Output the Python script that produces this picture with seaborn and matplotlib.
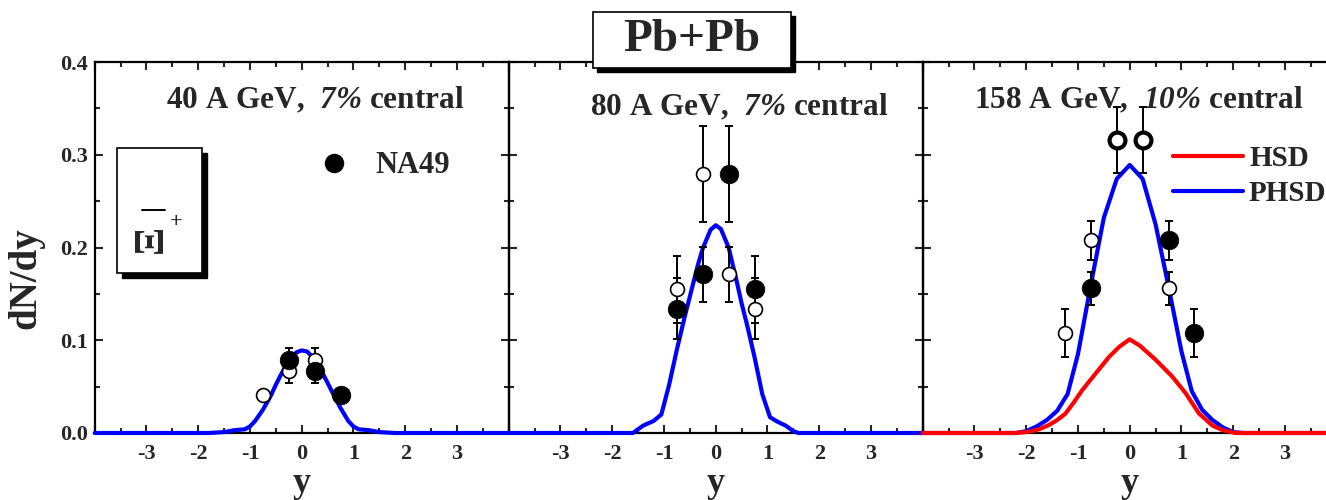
import numpy as np
import pandas as pd
import matplotlib
matplotlib.use("Agg")
import matplotlib.pyplot as plt
import seaborn as sns
from matplotlib.patches import Rectangle
from matplotlib.lines import Line2D
from matplotlib.ticker import MultipleLocator, FixedLocator, FixedFormatter

# ---------------- data ----------------
# NA49 Xi-bar+ rapidity points (measured: filled, reflected at y -> -y: open)
na49_40_y = [-0.25, 0.25, 0.75]
na49_40_dndy = [0.079, 0.067, 0.041]
na49_40_err = [0.013, 0.013, 0.005]

na49_80_y = [-0.75, -0.25, 0.25, 0.75]
na49_80_dndy = [0.134, 0.171, 0.279, 0.155]
na49_80_err = [0.033, 0.030, 0.052, 0.036]

na49_158_y = [-0.75, 0.75, 1.25]
na49_158_dndy = [0.156, 0.208, 0.1075]
na49_158_err = [0.018, 0.021, 0.026]
na49_158_mid_y = [-0.25, 0.25]
na49_158_mid_dndy = [0.316, 0.316]
na49_158_mid_err = [0.036, 0.036]

# PHSD / HSD rapidity distributions
phsd_40_y = [-4.0, -1.8, -1.5, -1.3, -1.1, -1.0, -0.9, -0.75, -0.6, -0.5, -0.4, -0.25,
             -0.1, 0.0, 0.1, 0.25, 0.4, 0.5, 0.6, 0.75, 0.9, 1.0, 1.1, 1.3, 1.5, 1.8, 4.0]
phsd_40_dndy = [0.0, 0.0, 0.001, 0.003, 0.004, 0.007, 0.013, 0.025, 0.040, 0.052, 0.063, 0.078,
                0.087, 0.089, 0.088, 0.080, 0.065, 0.054, 0.043, 0.027, 0.013, 0.007, 0.004,
                0.003, 0.001, 0.0, 0.0]

phsd_80_y = [-4.0, -1.6, -1.4, -1.2, -1.05, -0.9, -0.75, -0.6, -0.5, -0.35, -0.25, -0.1, 0.0,
             0.1, 0.25, 0.4, 0.5, 0.6, 0.75, 0.9, 1.05, 1.2, 1.35, 1.5, 1.6, 4.0]
phsd_80_dndy = [0.0, 0.0, 0.008, 0.013, 0.020, 0.052, 0.090, 0.125, 0.147, 0.180, 0.199, 0.219,
                0.224, 0.220, 0.200, 0.165, 0.140, 0.118, 0.082, 0.042, 0.017, 0.012, 0.008,
                0.002, 0.0, 0.0]

phsd_158_y = [-4.0, -2.2, -2.0, -1.8, -1.6, -1.4, -1.2, -1.0, -0.75, -0.5, -0.25, 0.0,
              0.25, 0.5, 0.75, 1.0, 1.2, 1.4, 1.6, 1.8, 2.0, 2.2, 4.0]
phsd_158_dndy = [0.0, 0.0, 0.002, 0.007, 0.014, 0.024, 0.042, 0.085, 0.160, 0.232, 0.274, 0.289,
                 0.274, 0.225, 0.158, 0.088, 0.045, 0.025, 0.014, 0.006, 0.001, 0.0, 0.0]

hsd_158_y = [-4.0, -2.2, -1.94, -1.75, -1.56, -1.4, -1.24, -1.08, -0.92, -0.66, -0.4, -0.2, 0.0,
             0.2, 0.5, 0.82, 1.08, 1.34, 1.6, 1.8, 2.05, 4.0]
hsd_158_dndy = [0.0, 0.0, 0.0014, 0.004, 0.0086, 0.014, 0.021, 0.033, 0.046, 0.064, 0.082, 0.093,
                0.101, 0.094, 0.079, 0.061, 0.043, 0.021, 0.008, 0.003, 0.0, 0.0]

panel_titles = ["40 A GeV,  $\\mathbfit{7\\%}$ central",
                "80 A GeV,  $\\mathbfit{7\\%}$ central",
                "158 A GeV,  $\\mathbfit{10\\%}$ central"]
x_tick_values = [-4, -3, -2, -1, 0, 1, 2, 3, 4]
x_tick_labels = ["", "-3", "-2", "-1", "0", "1", "2", "3", ""]
y_tick_values = [0.0, 0.1, 0.2, 0.3, 0.4]
y_tick_labels = ["0.0", "0.1", "0.2", "0.3", "0.4"]

# ---------------- style ----------------
sns.set_style("ticks")
plt.rcParams["font.family"] = ["Liberation Serif", "DejaVu Serif"]
plt.rcParams["font.weight"] = "bold"
plt.rcParams["axes.labelweight"] = "bold"
plt.rcParams["mathtext.fontset"] = "custom"
plt.rcParams["mathtext.rm"] = "Liberation Serif:bold"
plt.rcParams["mathtext.bf"] = "Liberation Serif:bold"
plt.rcParams["mathtext.bfit"] = "Liberation Serif:italic:bold"
plt.rcParams["mathtext.it"] = "Liberation Serif:italic:bold"

W, H = 1326, 500
fig = plt.figure(figsize=(W / 100, H / 100), dpi=100)
fig.patch.set_facecolor("white")


def px_axes(left, top, width, height):
    return fig.add_axes([left / W, (H - top - height) / H, width / W, height / H])


BLUE = "#0000ff"
RED = "#ff0000"

panel_left = [94.7, 508.7, 922.7]
panel_top, panel_w, panel_h = 62, 414, 371

points = [
    (na49_40_y, na49_40_dndy, na49_40_err),
    (na49_80_y, na49_80_dndy, na49_80_err),
    (na49_158_y, na49_158_dndy, na49_158_err),
]
phsd = [(phsd_40_y, phsd_40_dndy), (phsd_80_y, phsd_80_dndy), (phsd_158_y, phsd_158_dndy)]
title_pos = [(0.532, 0.898), (0.556, 0.879), (0.521, 0.898)]

axes = []
for i in range(3):
    ax = px_axes(panel_left[i], panel_top, panel_w, panel_h)
    axes.append(ax)
    ax.set_facecolor("none")

    # model curves
    df_p = pd.DataFrame({"y": phsd[i][0], "dndy": phsd[i][1]})
    sns.lineplot(data=df_p, x="y", y="dndy", ax=ax, color=BLUE, lw=3,
                 label="PHSD" if i == 2 else None, legend=False, zorder=3)
    if i == 2:
        df_h = pd.DataFrame({"y": hsd_158_y, "dndy": hsd_158_dndy})
        sns.lineplot(data=df_h, x="y", y="dndy", ax=ax, color=RED, lw=3,
                     label="HSD", legend=False, zorder=3.1)
    for ln in ax.lines:
        ln.set_clip_on(False)

    # data points: measured and reflected
    ys, vals, errs = points[i]
    refl = [-v for v in ys]
    ax.errorbar(refl, vals, yerr=errs, fmt="none", ecolor="black", elinewidth=1.4,
                capsize=3, capthick=1.4, zorder=4)
    ax.errorbar(ys, vals, yerr=errs, fmt="none", ecolor="black", elinewidth=1.4,
                capsize=3, capthick=1.4, zorder=4)
    sns.scatterplot(x=refl, y=vals, ax=ax, s=100, facecolor="white", edgecolor="black",
                    linewidth=1.2, zorder=5)
    sns.scatterplot(x=ys, y=vals, ax=ax, s=180, color="black", edgecolor="black",
                    linewidth=0.5, zorder=6)
    if i == 2:
        ax.errorbar(na49_158_mid_y, na49_158_mid_dndy, yerr=na49_158_mid_err, fmt="none",
                    ecolor="black", elinewidth=1.4, capsize=3, capthick=1.4, zorder=4)
        sns.scatterplot(x=na49_158_mid_y, y=na49_158_mid_dndy, ax=ax, s=130,
                        facecolor="white", edgecolor="black", linewidth=3, zorder=6)

    # axes cosmetics
    ax.set_xlim(-4, 4)
    ax.set_ylim(0, 0.4)
    ax.xaxis.set_major_locator(FixedLocator(x_tick_values))
    ax.xaxis.set_major_formatter(FixedFormatter(x_tick_labels))
    ax.xaxis.set_minor_locator(MultipleLocator(0.5))
    ax.yaxis.set_major_locator(FixedLocator(y_tick_values))
    ax.yaxis.set_minor_locator(MultipleLocator(0.05))
    if i == 0:
        ax.yaxis.set_major_formatter(FixedFormatter(y_tick_labels))
        ax.set_ylabel("dN/dy", fontsize=28, fontweight="bold")
        ax.yaxis.set_label_coords(-0.121, 0.418)
    else:
        ax.set_yticklabels([])
        ax.set_ylabel("")
    ax.tick_params(which="both", direction="in", top=True, right=True, width=1.5,
                   labelsize=16)
    ax.tick_params(axis="x", which="both", pad=8)
    ax.tick_params(axis="y", which="both", pad=5)
    ax.tick_params(which="major", length=6)
    ax.tick_params(which="minor", length=3.5)
    for sp in ax.spines.values():
        sp.set_linewidth(1.6)
        sp.set_color("black")
    ax.set_xlabel("y", fontsize=26, fontweight="bold", labelpad=2)
    ax.text(*title_pos[i], panel_titles[i], transform=ax.transAxes, ha="center",
            va="center", fontsize=22.5, fontweight="bold")

# NA49 marker legend in the first panel
na49_handle = Line2D([], [], marker="o", ls="none", color="black", markersize=13)
axes[0].legend(handles=[na49_handle], labels=["NA49"], loc="center left",
               bbox_to_anchor=(0.533, 0.72), frameon=False, fontsize=22,
               handlelength=1.2, handletextpad=0.75, borderpad=0, borderaxespad=0)

# model legend in the last panel (HSD first)
handles, labels = axes[2].get_legend_handles_labels()
order = [labels.index("HSD"), labels.index("PHSD")]
leg = axes[2].legend([handles[k] for k in order], [labels[k] for k in order],
                     loc="upper left", bbox_to_anchor=(0.605, 0.775), frameon=False,
                     fontsize=21, handlelength=2.4, handletextpad=0.2,
                     labelspacing=0.25, borderpad=0, borderaxespad=0)
for h in leg.legend_handles:
    h.set_linewidth(3)
leg.set_zorder(10)


# boxed labels with drop shadow
def shadow_box(x0, y0, x1, y1, off):
    shadow = Rectangle(((x0 + off) / W, (H - y1 - off) / H), (x1 - x0) / W, (y1 - y0) / H,
                       transform=fig.transFigure, facecolor="black", edgecolor="black",
                       zorder=20)
    box = Rectangle((x0 / W, (H - y1) / H), (x1 - x0) / W, (y1 - y0) / H,
                    transform=fig.transFigure, facecolor="white", edgecolor="black",
                    lw=1.2, zorder=21)
    fig.patches.extend([shadow, box])


shadow_box(592.7, 11.7, 790.7, 68.3, 4)
fig.text(691.7 / W, 1 - 40 / H, "Pb+Pb", ha="center", va="center", fontsize=34,
         fontweight="bold", zorder=22)

shadow_box(116.7, 148.3, 201.7, 273.0, 5)
fig.text(152 / W, 1 - 239 / H, "Ξ", rotation=90, ha="center", va="center",
         fontsize=30, fontweight="bold", zorder=22)
fig.add_artist(Line2D([142 / W, 165 / W], [1 - 210 / H, 1 - 210 / H], color="black",
                      lw=1.4, transform=fig.transFigure, zorder=22))
fig.text(176 / W, 1 - 222 / H, "+", ha="center", va="center", fontsize=16,
         fontweight="bold", zorder=22)

fig.savefig("out.png", dpi=100, facecolor="white")
